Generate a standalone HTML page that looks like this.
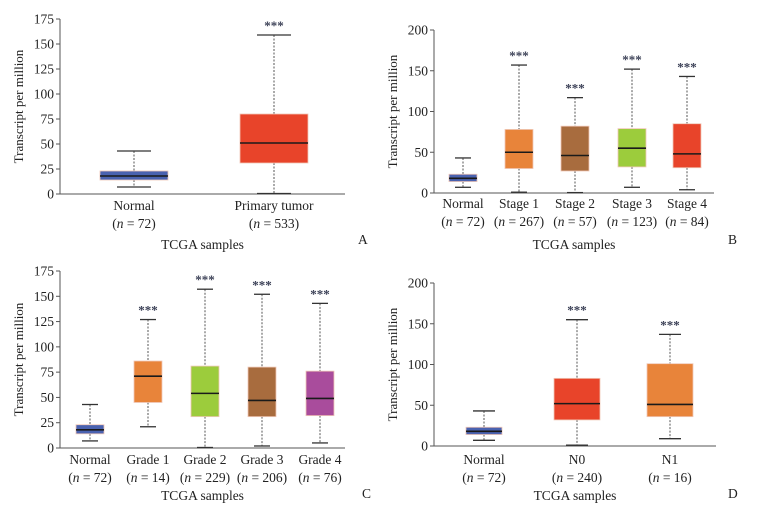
<!DOCTYPE html>
<html><head><meta charset="utf-8"><style>
html,body{margin:0;padding:0;background:#fff;}
svg{display:block;font-family:"Liberation Serif",serif;}
</style></head><body>
<svg id="fig" width="782" height="509" viewBox="0 0 782 509"></svg>
<script>
// Panel A data
const catsA = ["Normal","Primary tumor"];
const nA = ["72","533"];
const minA = [7,0.5], q1A = [14,31], medA = [18,51], q3A = [23,80], maxA = [43,159];
// Panel B data
const catsB = ["Normal","Stage 1","Stage 2","Stage 3","Stage 4"];
const nB = ["72","267","57","123","84"];
const minB = [7,1,0.5,7,4], q1B = [14,30,27,32,31], medB = [18,50,46,55,48], q3B = [23,78,82,79,85], maxB = [43,157,117,152,143];
// Panel C data
const catsC = ["Normal","Grade 1","Grade 2","Grade 3","Grade 4"];
const nC = ["72","14","229","206","76"];
const minC = [7,21,0.5,2,5], q1C = [14,45,31,31,32], medC = [18,71,54,47,49], q3C = [23,86,81,80,76], maxC = [43,127,157,152,143];
// Panel D data
const catsD = ["Normal","N0","N1"];
const nD = ["72","240","16"];
const minD = [7,1,9], q1D = [14,32,36], medD = [18,52,51], q3D = [23,83,101], maxD = [43,155,137];
// ticks
const ticks175 = [0,25,50,75,100,125,150,175];
const ticks200 = [0,50,100,150,200];

const NS="http://www.w3.org/2000/svg";
const svg=document.getElementById('fig');
function mk(tag,attrs,parent){const e=document.createElementNS(NS,tag);for(const k in attrs)e.setAttribute(k,attrs[k]);(parent||svg).appendChild(e);return e;}

function panel(o){
  const g=mk('g',{});
  
  
  const y=v=>o.y0-(v/o.ymax)*(o.y0-o.ytop);
  const ax=mk('path',{d:`M${o.ax} ${o.ytop}V${o.y0}H${o.axEnd}`,stroke:'#555',fill:'none','stroke-width':1},g);
  
  
  o.ticks.forEach(t=>{
    mk('line',{x1:o.ax-4,x2:o.ax,y1:y(t),y2:y(t),stroke:'#555'},g);
    const tx=mk('text',{x:o.ax-6,y:y(t)+4.5,'text-anchor':'end','font-size':13.5,fill:'#222'},g);
    tx.textContent=t;
    
    
  });
  const yt=mk('text',{transform:`translate(${o.ax-37},${(o.ytop+o.y0)/2}) rotate(-90)`,'text-anchor':'middle','font-size':13,fill:'#222'},g);
  yt.textContent='Transcript per million';
  
  
  o.cats.forEach((c,i)=>{
    const cx=o.cx[i], w=o.bw[i], cw=o.cw;
    const bg=mk('g',{},g);
    
    
    mk('line',{x1:cx,x2:cx,y1:y(o.max[i]),y2:y(o.q3[i]),stroke:'#555','stroke-dasharray':'2,1.5'},bg);
    mk('line',{x1:cx,x2:cx,y1:y(o.q1[i]),y2:y(o.min[i]),stroke:'#555','stroke-dasharray':'2,1.5'},bg);
    mk('line',{x1:cx-cw/2,x2:cx+cw/2,y1:y(o.max[i]),y2:y(o.max[i]),stroke:'#333','stroke-width':1.3},bg);
    mk('line',{x1:cx-cw/2,x2:cx+cw/2,y1:y(o.min[i]),y2:y(o.min[i]),stroke:'#333','stroke-width':1.3},bg);
    mk('rect',{x:cx-w/2,y:y(o.q3[i]),width:w,height:y(o.q1[i])-y(o.q3[i]),fill:o.colors[i],stroke:'#f0c8b8','stroke-width':0.8},bg);
    mk('line',{x1:cx-w/2,x2:cx+w/2,y1:y(o.med[i]),y2:y(o.med[i]),stroke:'#1a1a1a','stroke-width':1.6},bg);
    if(i>0){
      const s=mk('text',{x:cx,y:y(o.max[i])-5,'text-anchor':'middle','font-size':13,fill:'#3a3f55','font-weight':'bold'},g);
      s.textContent='***';
      
      
    }
    const l1=mk('text',{x:cx,y:o.lab1,'text-anchor':'middle','font-size':13.5,fill:'#222'},g);
    l1.textContent=c;
    
    
    const l2=mk('text',{x:cx,y:o.lab2,'text-anchor':'middle','font-size':13.5,fill:'#222'},g);
    l2.innerHTML='(<tspan font-style="italic">n</tspan> = '+o.n[i]+')';
    
    
  });
  const xt=mk('text',{x:(o.ax+o.axEnd)/2,y:o.xt,'text-anchor':'middle','font-size':13.5,fill:'#222'},g);
  xt.textContent='TCGA samples';
  
  
  const lt=mk('text',{x:o.lx,y:o.ly,'font-size':13.5,fill:'#222'},g);
  lt.textContent=o.letter;
  
  
}
const BL='#4a62b0',OR='#e8843a',BR='#a86c3e',GR='#9ccc3c',RD='#e8442a',PU='#a94c9c';
panel({letter:'A',cats:catsA,n:nA,min:minA,q1:q1A,med:medA,q3:q3A,max:maxA,ticks:ticks175,ymax:175,
  ax:60,axEnd:345,y0:194,ytop:19,cx:[134,274],bw:[68,68],cw:34,colors:[BL,RD],lab1:210,lab2:228,xt:249,lx:358,ly:244});
panel({letter:'B',cats:catsB,n:nB,min:minB,q1:q1B,med:medB,q3:q3B,max:maxB,ticks:ticks200,ymax:200,
  ax:434,axEnd:714,y0:193,ytop:30,cx:[463,519,575,632,687],bw:[28,28,28,28,28],cw:16,colors:[BL,OR,BR,GR,RD],lab1:208,lab2:226,xt:249,lx:728,ly:244});
panel({letter:'C',cats:catsC,n:nC,min:minC,q1:q1C,med:medC,q3:q3C,max:maxC,ticks:ticks175,ymax:175,
  ax:60,axEnd:345,y0:448,ytop:271,cx:[90,148,205,262,320],bw:[28,28,28,28,28],cw:16,colors:[BL,OR,GR,BR,PU],lab1:464,lab2:482,xt:500,lx:362,ly:498});
panel({letter:'D',cats:catsD,n:nD,min:minD,q1:q1D,med:medD,q3:q3D,max:maxD,ticks:ticks200,ymax:200,
  ax:434,axEnd:716,y0:446,ytop:283,cx:[484,577,670],bw:[36,46,46],cw:22,colors:[BL,RD,OR],lab1:464,lab2:482,xt:500,lx:728,ly:498});
</script>
</body></html>
